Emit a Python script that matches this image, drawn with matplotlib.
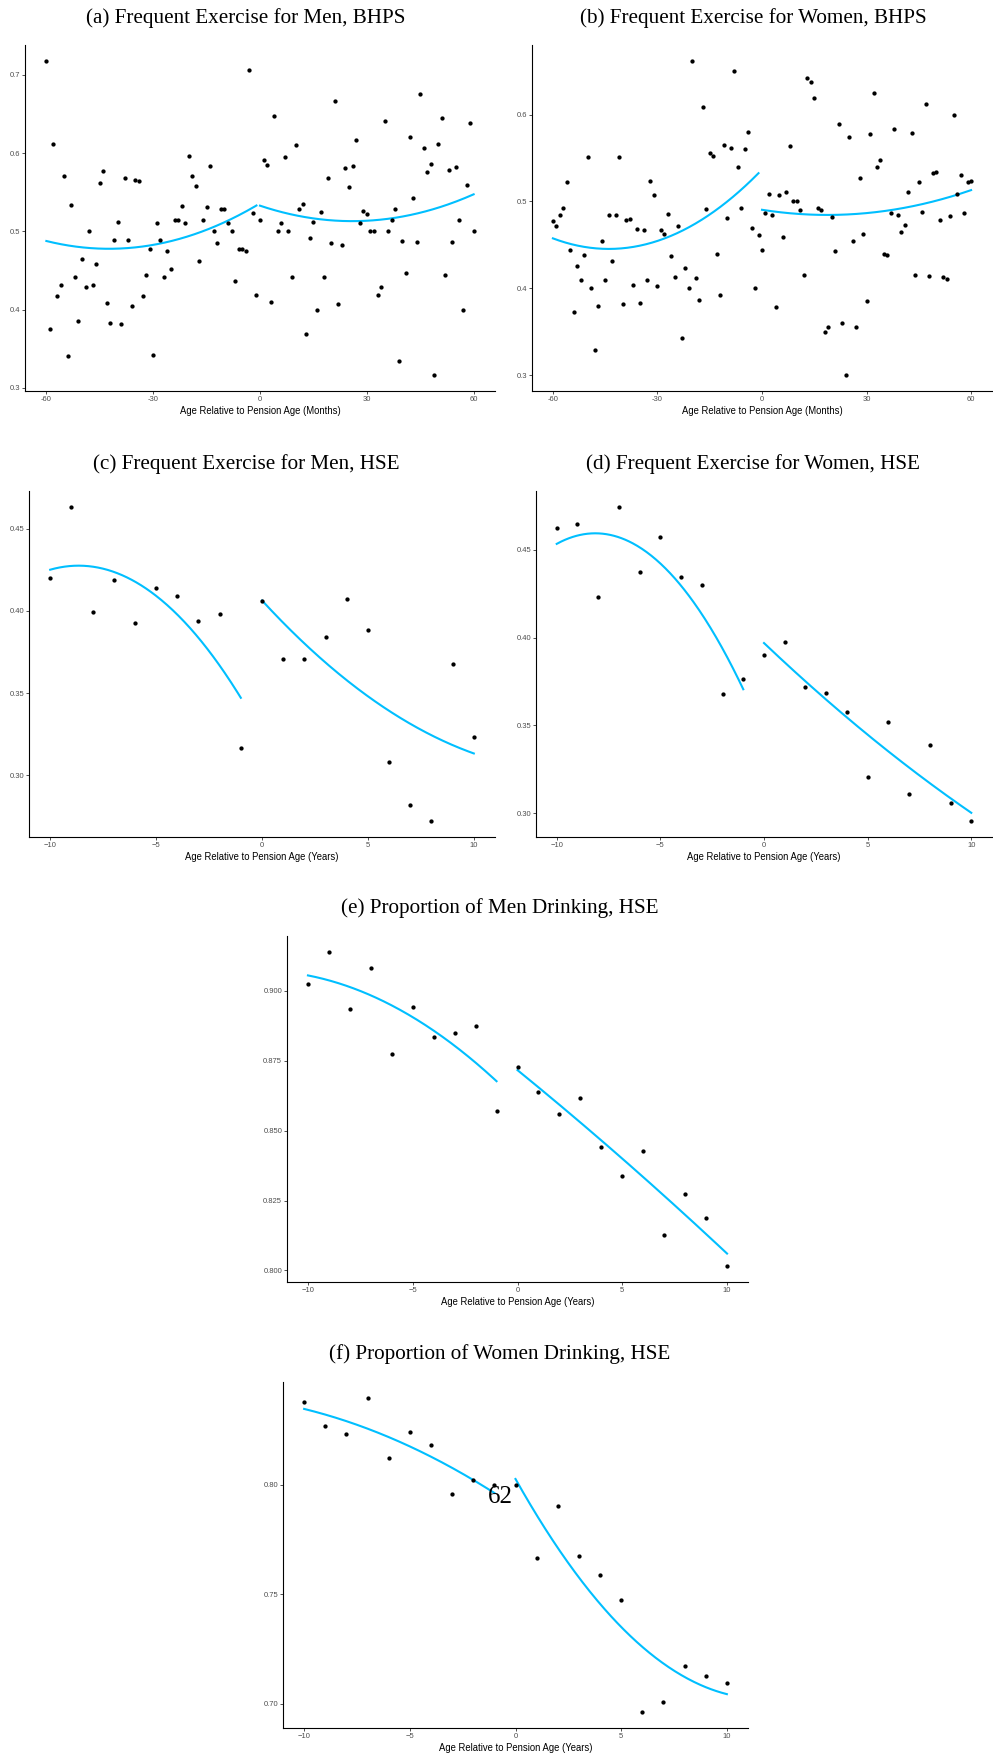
import matplotlib

matplotlib.use("Agg")
import matplotlib.pyplot as plt
import numpy as np

# x positions (relative to pension age)
months = np.arange(-60, 61)
years = np.arange(-10, 11)

# (a) frequent exercise, men, BHPS  (months -60..60)
ex_men_bhps = [
    0.718, 0.375, 0.612, 0.417, 0.431, 0.571, 0.340, 0.534, 0.442, 0.386,
    0.464, 0.429, 0.500, 0.432, 0.458, 0.562, 0.577, 0.408, 0.383, 0.489,
    0.512, 0.381, 0.568, 0.489, 0.405, 0.565, 0.564, 0.417, 0.444, 0.477,
    0.342, 0.510, 0.489, 0.442, 0.475, 0.452, 0.515, 0.514, 0.532, 0.511,
    0.596, 0.571, 0.558, 0.462, 0.515, 0.531, 0.583, 0.500, 0.485, 0.529,
    0.528, 0.511, 0.500, 0.436, 0.477, 0.477, 0.475, 0.706, 0.524, 0.419,
    0.514, 0.591, 0.585, 0.410, 0.647, 0.500, 0.510, 0.595, 0.500, 0.441,
    0.610, 0.529, 0.535, 0.369, 0.491, 0.512, 0.400, 0.525, 0.442, 0.568,
    0.485, 0.666, 0.407, 0.483, 0.581, 0.556, 0.583, 0.617, 0.510, 0.526,
    0.522, 0.500, 0.500, 0.419, 0.429, 0.641, 0.500, 0.515, 0.528, 0.334,
    0.487, 0.447, 0.621, 0.543, 0.486, 0.676, 0.606, 0.576, 0.586, 0.316,
    0.612, 0.645, 0.444, 0.578, 0.486, 0.582, 0.515, 0.400, 0.559, 0.639,
    0.500,
]

# (b) frequent exercise, women, BHPS
ex_women_bhps = [
    0.478, 0.472, 0.484, 0.492, 0.522, 0.444, 0.373, 0.426, 0.410, 0.438,
    0.551, 0.400, 0.329, 0.380, 0.454, 0.410, 0.485, 0.431, 0.485, 0.551,
    0.382, 0.479, 0.480, 0.404, 0.468, 0.383, 0.467, 0.410, 0.524, 0.507,
    0.403, 0.467, 0.463, 0.486, 0.437, 0.413, 0.472, 0.343, 0.423, 0.400,
    0.662, 0.412, 0.387, 0.609, 0.491, 0.556, 0.552, 0.440, 0.392, 0.565,
    0.481, 0.562, 0.650, 0.540, 0.492, 0.560, 0.580, 0.469, 0.400, 0.462,
    0.444, 0.487, 0.509, 0.485, 0.379, 0.508, 0.459, 0.511, 0.564, 0.500,
    0.500, 0.490, 0.415, 0.642, 0.638, 0.619, 0.492, 0.490, 0.350, 0.356,
    0.482, 0.443, 0.589, 0.360, 0.300, 0.574, 0.454, 0.356, 0.527, 0.463,
    0.386, 0.578, 0.625, 0.540, 0.548, 0.440, 0.438, 0.487, 0.583, 0.485,
    0.465, 0.473, 0.511, 0.579, 0.415, 0.523, 0.488, 0.612, 0.414, 0.533,
    0.534, 0.479, 0.413, 0.411, 0.483, 0.600, 0.509, 0.531, 0.487, 0.523,
    0.524,
]

# (c)-(f) HSE, years -10..10
ex_men_hse = [0.420, 0.4634, 0.3996, 0.419, 0.3927, 0.4138, 0.4089, 0.3937, 0.398, 0.3164,
              0.4059, 0.3706, 0.3706, 0.3844, 0.4071, 0.3885, 0.3081, 0.282, 0.272, 0.368, 0.3231]
ex_women_hse = [0.4625, 0.4646, 0.4231, 0.4744, 0.4371, 0.4574, 0.4345, 0.4301, 0.3678, 0.3765,
                0.3903, 0.3977, 0.3720, 0.3682, 0.3576, 0.3208, 0.3517, 0.3108, 0.3386, 0.3059, 0.2955]
drink_men_hse = [0.9023, 0.9139, 0.8933, 0.9082, 0.8773, 0.8942, 0.8833, 0.8850, 0.8872, 0.8571,
                 0.8727, 0.8637, 0.8558, 0.8618, 0.8440, 0.8338, 0.8426, 0.8126, 0.8274, 0.8187, 0.8015]
drink_women_hse = [0.8377, 0.8267, 0.8231, 0.8397, 0.8122, 0.8240, 0.8181, 0.7959, 0.8020, 0.7997,
                   0.7997, 0.7667, 0.7901, 0.7673, 0.7585, 0.7474, 0.6960, 0.7009, 0.7172, 0.7125, 0.7096]

W, H = 993, 1754
FIT_COL = "deepskyblue"
SERIF = "Liberation Serif"
SANS = "Liberation Sans"

panels = [
    # (data, x, title, unit, [l, top, r, bottom] px, title centre x, yticks, fmt, xticks, minus)
    (ex_men_bhps, months, "(a) Frequent Exercise for Men, BHPS", "(Months)",
     [25, 45, 495, 391], 246, [0.3, 0.4, 0.5, 0.6, 0.7], "{:.1f}", [-60, -30, 0, 30, 60], "-"),
    (ex_women_bhps, months, "(b) Frequent Exercise for Women, BHPS", "(Months)",
     [532, 45, 992, 391], 753, [0.3, 0.4, 0.5, 0.6], "{:.1f}", [-60, -30, 0, 30, 60], "-"),
    (ex_men_hse, years, "(c) Frequent Exercise for Men, HSE", "(Years)",
     [29, 491, 495, 837], 246, [0.30, 0.35, 0.40, 0.45], "{:.2f}", [-10, -5, 0, 5, 10], "\u2212"),
    (ex_women_hse, years, "(d) Frequent Exercise for Women, HSE", "(Years)",
     [536, 491, 992, 837], 753, [0.30, 0.35, 0.40, 0.45], "{:.2f}", [-10, -5, 0, 5, 10], "\u2212"),
    (drink_men_hse, years, "(e) Proportion of Men Drinking, HSE", "(Years)",
     [287, 936, 748, 1282], 500, [0.800, 0.825, 0.850, 0.875, 0.900], "{:.3f}", [-10, -5, 0, 5, 10], "\u2212"),
    (drink_women_hse, years, "(f) Proportion of Women Drinking, HSE", "(Years)",
     [283, 1382, 748, 1728], 500, [0.70, 0.75, 0.80], "{:.2f}", [-10, -5, 0, 5, 10], "\u2212"),
]


def main() -> None:
    fig = plt.figure(figsize=(W / 100, H / 100), dpi=100)

    for data, x, title, unit, (l, t, r, b), tx, yt, fmt, xt, minus in panels:
        y = np.asarray(data)
        ax = fig.add_axes([l / W, 1 - b / H, (r - l) / W, (b - t) / H])
        ax.scatter(x, y, s=9.5, color="black", linewidths=0, zorder=3)

        # quadratic fit on each side of the pension age
        for side in (x < 0, x >= 0):
            coef = np.polyfit(x[side], y[side], 2)
            xs = np.linspace(x[side].min(), x[side].max(), 200)
            ax.plot(xs, np.polyval(coef, xs), color=FIT_COL, lw=1.5, zorder=2)

        ax.margins(0.05)
        for s in ("top", "right"):
            ax.spines[s].set_visible(False)
        for s in ("left", "bottom"):
            ax.spines[s].set_linewidth(0.8)
        ax.set_yticks(yt)
        ax.set_yticklabels([fmt.format(v) for v in yt])
        ax.set_xticks(xt)
        ax.set_xticklabels([str(v).replace("-", minus) for v in xt])
        ax.tick_params(length=2, width=0.6, pad=1.5, color="#333333",
                       labelcolor="#4D4D4D", labelsize=5.5)
        for lab in ax.get_xticklabels() + ax.get_yticklabels():
            lab.set_family(SANS)
        ax.set_xlabel(f"Age Relative to Pension Age {unit}", fontsize=6.85,
                      family=SANS, labelpad=2.5)

        fig.text(tx / W, 1 - (t - 22.5) / H, title, ha="center", va="baseline",
                 fontsize=15.2, family=SERIF)

    # page number from the source document
    fig.text(500 / W, 1 - 1497 / H, "62", ha="center", va="center",
             fontsize=18, family=SERIF, zorder=10)

    fig.savefig("out.png", dpi=100)
    plt.close(fig)


if __name__ == "__main__":
    main()
